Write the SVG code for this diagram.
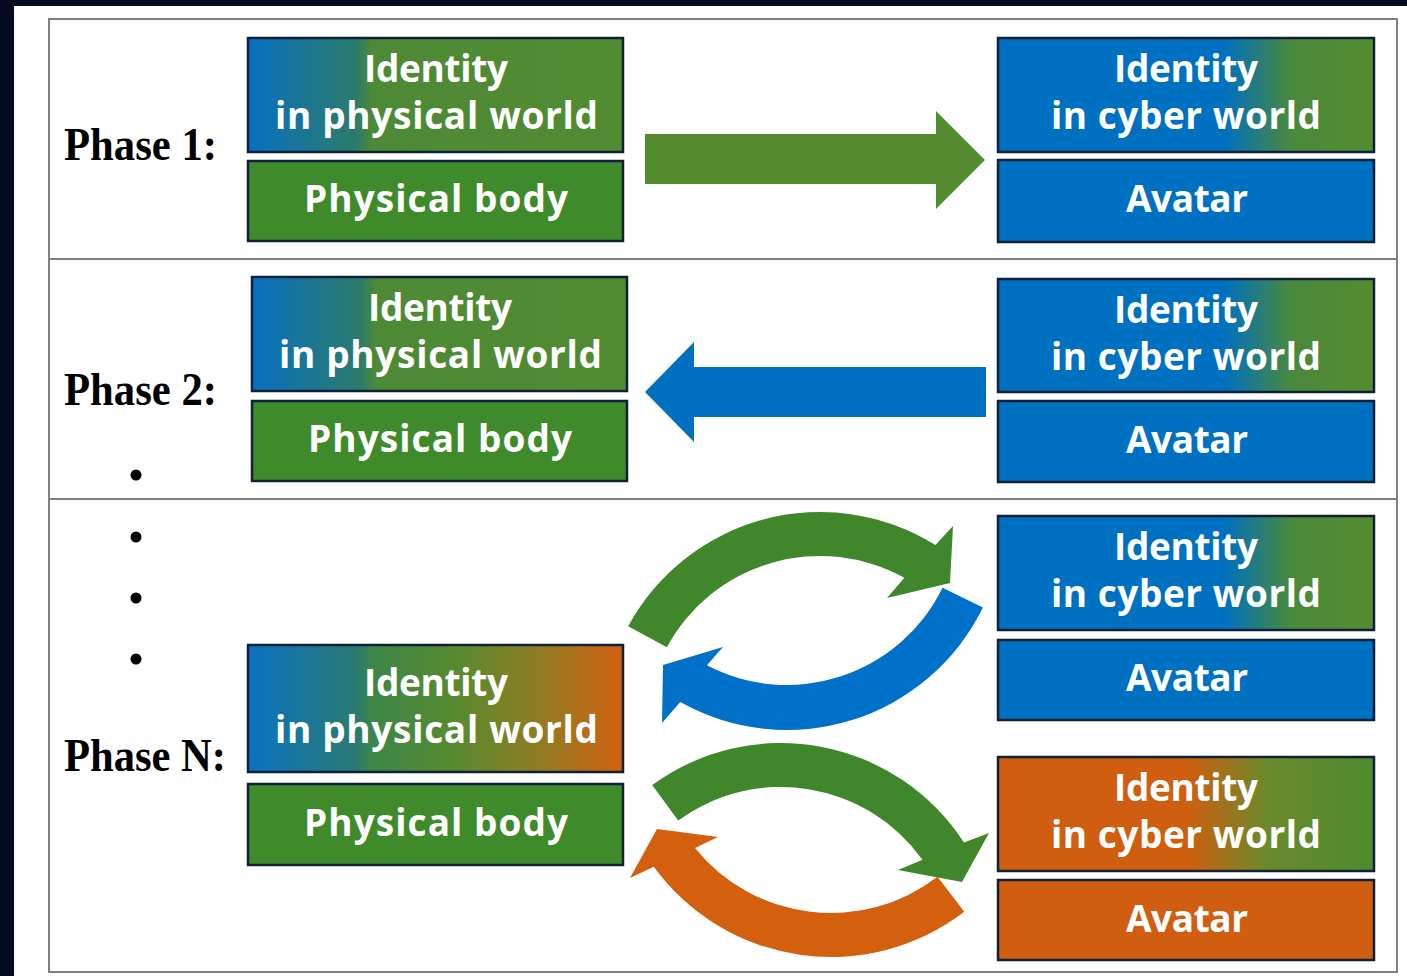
<svg xmlns="http://www.w3.org/2000/svg" width="1407" height="976" viewBox="0 0 1407 976">
<defs>
<style>
.box{stroke:#10203a;stroke-width:2.5}
.t{fill:#ffffff;font-family:"Open Sans","Noto Sans",sans-serif;font-weight:700;font-size:37px}
.ph{fill:#000000;font-family:"Liberation Serif","Times New Roman",serif;font-weight:700;font-size:47px}
.sep{stroke:#7f7f7f;stroke-width:2;fill:none}
.blue{fill:#0070C0}
.green{fill:#3F8A2B}
.orange{fill:#CF5E10}
</style>
<linearGradient id="gPhys" x1="0" y1="0" x2="1" y2="0">
<stop offset="0" stop-color="#0870C2"/>
<stop offset="0.29" stop-color="#2C7B6A"/>
<stop offset="0.33" stop-color="#4E8936"/>
<stop offset="1" stop-color="#518B31"/>
</linearGradient>
<linearGradient id="gCyber" x1="0" y1="0" x2="1" y2="0">
<stop offset="0" stop-color="#0070C0"/>
<stop offset="0.6" stop-color="#0070C0"/>
<stop offset="0.78" stop-color="#4A893C"/>
<stop offset="1" stop-color="#548C2F"/>
</linearGradient>
<linearGradient id="gPhysN" x1="0" y1="0" x2="1" y2="0">
<stop offset="0" stop-color="#0A72C4"/>
<stop offset="0.29" stop-color="#2A7A72"/>
<stop offset="0.33" stop-color="#3D8648"/>
<stop offset="0.55" stop-color="#578A30"/>
<stop offset="0.8" stop-color="#967A22"/>
<stop offset="1" stop-color="#D2600E"/>
</linearGradient>
<linearGradient id="gCyberO" x1="0" y1="0" x2="1" y2="0">
<stop offset="0" stop-color="#CF5E10"/>
<stop offset="0.5" stop-color="#CF5E10"/>
<stop offset="0.72" stop-color="#6A8A2C"/>
<stop offset="1" stop-color="#4E8A30"/>
</linearGradient>
</defs>

<rect x="0" y="0" width="1407" height="976" fill="#ffffff"/>
<rect x="0" y="0" width="1407" height="6" fill="#030B1F"/>
<rect x="0" y="0" width="14" height="976" fill="#030B1F"/>

<g id="table">
<rect x="49" y="19" width="1348" height="953" class="sep"/>
<line x1="49" y1="259" x2="1397" y2="259" class="sep"/>
<line x1="49" y1="499" x2="1397" y2="499" class="sep"/>
</g>

<g id="labels">
<text class="ph" x="64" y="160" textLength="153" lengthAdjust="spacingAndGlyphs">Phase 1:</text>
<text class="ph" x="64" y="405" textLength="153" lengthAdjust="spacingAndGlyphs">Phase 2:</text>
<text class="ph" x="64" y="771" textLength="162" lengthAdjust="spacingAndGlyphs">Phase N:</text>
<circle cx="136" cy="475" r="5.5" fill="#000"/>
<circle cx="136" cy="537" r="5.5" fill="#000"/>
<circle cx="136" cy="598" r="5.5" fill="#000"/>
<circle cx="136" cy="659" r="5.5" fill="#000"/>
</g>

<g id="p1-identity-physical">
<rect x="248" y="38" width="375" height="114" fill="url(#gPhys)" class="box"/>
<text class="t" x="364" y="82" textLength="144" lengthAdjust="spacing">Identity</text>
<text class="t" x="275" y="129" textLength="323" lengthAdjust="spacing">in physical world</text>
</g>
<g id="p1-physical-body">
<rect x="248" y="161" width="375" height="80" class="box green"/>
<text class="t" x="304" y="212" textLength="264" lengthAdjust="spacing">Physical body</text>
</g>
<g id="p1-identity-cyber">
<rect x="998" y="38" width="376" height="114" fill="url(#gCyber)" class="box"/>
<text class="t" x="1114" y="82" textLength="144" lengthAdjust="spacing">Identity</text>
<text class="t" x="1051" y="129" textLength="270" lengthAdjust="spacing">in cyber world</text>
</g>
<g id="p1-avatar">
<rect x="998" y="160" width="376" height="82" class="box blue"/>
<text class="t" x="1126" y="212" textLength="122" lengthAdjust="spacing">Avatar</text>
</g>

<g id="p2-identity-physical">
<rect x="252" y="277" width="375" height="114" fill="url(#gPhys)" class="box"/>
<text class="t" x="368" y="321" textLength="144" lengthAdjust="spacing">Identity</text>
<text class="t" x="279" y="368" textLength="323" lengthAdjust="spacing">in physical world</text>
</g>
<g id="p2-physical-body">
<rect x="252" y="401" width="375" height="80" class="box green"/>
<text class="t" x="308" y="452" textLength="264" lengthAdjust="spacing">Physical body</text>
</g>
<g id="p2-identity-cyber">
<rect x="998" y="279" width="376" height="113" fill="url(#gCyber)" class="box"/>
<text class="t" x="1114" y="323" textLength="144" lengthAdjust="spacing">Identity</text>
<text class="t" x="1051" y="370" textLength="270" lengthAdjust="spacing">in cyber world</text>
</g>
<g id="p2-avatar">
<rect x="998" y="401" width="376" height="81" class="box blue"/>
<text class="t" x="1126" y="453" textLength="122" lengthAdjust="spacing">Avatar</text>
</g>

<g id="pN-identity-physical">
<rect x="248" y="645" width="375" height="127" fill="url(#gPhysN)" class="box"/>
<text class="t" x="364" y="696" textLength="144" lengthAdjust="spacing">Identity</text>
<text class="t" x="275" y="743" textLength="323" lengthAdjust="spacing">in physical world</text>
</g>
<g id="pN-physical-body">
<rect x="248" y="784" width="375" height="81" class="box green"/>
<text class="t" x="304" y="836" textLength="264" lengthAdjust="spacing">Physical body</text>
</g>
<g id="pN-identity-cyber-1">
<rect x="998" y="516" width="376" height="114" fill="url(#gCyber)" class="box"/>
<text class="t" x="1114" y="560" textLength="144" lengthAdjust="spacing">Identity</text>
<text class="t" x="1051" y="607" textLength="270" lengthAdjust="spacing">in cyber world</text>
</g>
<g id="pN-avatar-1">
<rect x="998" y="640" width="376" height="80" class="box blue"/>
<text class="t" x="1126" y="691" textLength="122" lengthAdjust="spacing">Avatar</text>
</g>
<g id="pN-identity-cyber-2">
<rect x="998" y="757" width="376" height="114" fill="url(#gCyberO)" class="box"/>
<text class="t" x="1114" y="801" textLength="144" lengthAdjust="spacing">Identity</text>
<text class="t" x="1051" y="848" textLength="270" lengthAdjust="spacing">in cyber world</text>
</g>
<g id="pN-avatar-2">
<rect x="998" y="880" width="376" height="80" class="box orange"/>
<text class="t" x="1126" y="932" textLength="122" lengthAdjust="spacing">Avatar</text>
</g>

<g id="connectors">
<path d="M645,134 H936 V111 L985,160 L936,209 V184 H645 Z" fill="#558B2F"/>
<path d="M645,392 L694,342 V367 H986 V417 H694 V442 Z" fill="#0070C0"/>
<path d="M628.2,626.3 A218,218 0 0 1 935.5,545.1 L953,526 L950,583 L887,598 L904.4,577.8 A174,174 0 0 0 666.9,647.2 Z" fill="#3F872A"/>
<path d="M982.9,607.6 A218,218 0 0 1 680.3,702.1 L662,723 L663,665 L723,647 L706.9,665.3 A173,173 0 0 0 942.5,587.8 Z" fill="#0070C8"/>
<path d="M652.2,785.1 A218,218 0 0 1 964,842.6 L989,833 L962,882 L898,870 L922.5,859.7 A174,174 0 0 0 678.2,820.6 Z" fill="#3F872A"/>
<path d="M964.3,911.8 A219,219 0 0 1 653.8,866.7 L630,878 L657,829 L718,837 L695,848.1 A175,175 0 0 0 937.5,876.8 Z" fill="#D2600E"/>
</g>
</svg>
